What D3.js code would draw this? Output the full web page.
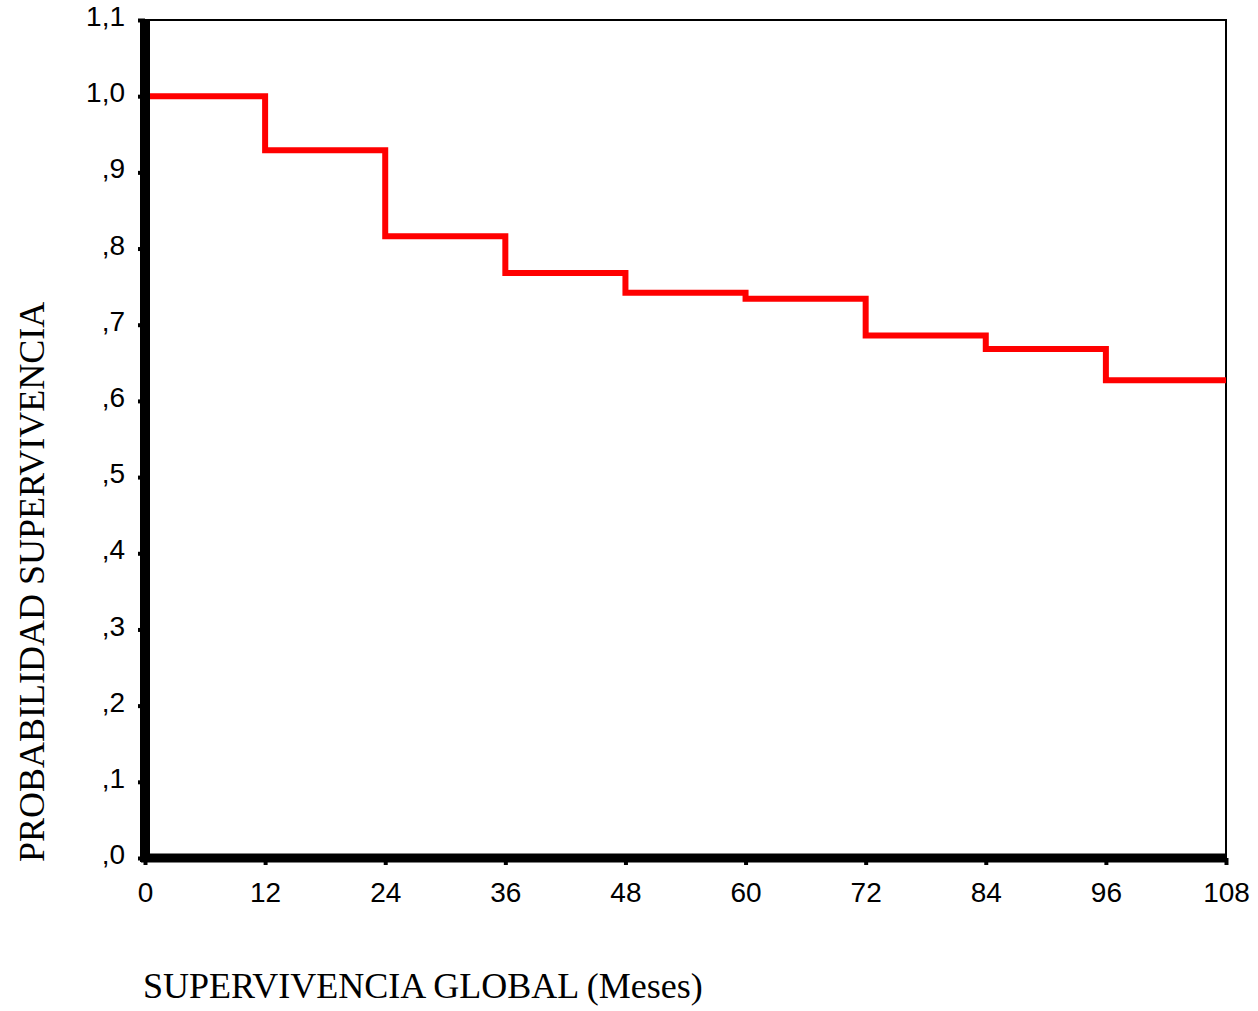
<!DOCTYPE html>
<html lang="es">
<head>
  <meta charset="UTF-8">
  <title>Supervivencia global</title>
  <script src="https://d3js.org/d3.v7.min.js"></script>
  <style>
    body { margin: 0; background: #fff; }
    .tick text { font-family: "Liberation Sans", Arial, sans-serif; font-size: 28px; fill: #000; }
    .title { font-family: "Liberation Serif", "Times New Roman", serif; font-size: 36px; fill: #000; }
  </style>
</head>
<body>
  <div id="chart"></div>
  <script>
    // Kaplan-Meier steps: time (months) and survival after each step
    const stepTimes = [0, 12, 24, 36, 48, 60, 72, 84, 96, 108];
    const survival  = [1.0, 0.929, 0.816, 0.768, 0.742, 0.734, 0.686, 0.668, 0.627, 0.627];
    const xTicks = [0, 12, 24, 36, 48, 60, 72, 84, 96, 108];
    const yTicks = [0, 0.1, 0.2, 0.3, 0.4, 0.5, 0.6, 0.7, 0.8, 0.9, 1.0, 1.1];

    const width = 1258, height = 1011;
    const margin = { left: 145, right: 32, top: 20, bottom: 153 };

    const svg = d3.select("#chart").append("svg")
      .attr("width", width).attr("height", height);

    const x = d3.scaleLinear().domain([0, 108]).range([margin.left, width - margin.right]);
    const y = d3.scaleLinear().domain([0, 1.1]).range([height - margin.bottom, margin.top]);

    const fmtY = v => {
      const s = d3.format(".1f")(v).replace(".", ",");
      return s.startsWith("0") ? s.slice(1) : s;
    };

    // frame (thin top & right)
    svg.append("rect")
      .attr("x", x(0)).attr("y", y(1.1))
      .attr("width", x(108) - x(0)).attr("height", y(0) - y(1.1))
      .attr("fill", "none").attr("stroke", "#000").attr("stroke-width", 2);

    // survival curve
    const line = d3.line().curve(d3.curveStepAfter)
      .x((d, i) => x(stepTimes[i])).y(d => y(d));
    svg.append("path")
      .datum(survival)
      .attr("d", line)
      .attr("fill", "none")
      .attr("stroke", "#ff0000")
      .attr("stroke-width", 6);

    // axes
    const yAxis = svg.append("g")
      .attr("transform", `translate(${x(0)},0)`)
      .call(d3.axisLeft(y).tickValues(yTicks).tickFormat(fmtY).tickSize(7).tickPadding(13));
    const xAxis = svg.append("g")
      .attr("transform", `translate(0,${y(0)})`)
      .call(d3.axisBottom(x).tickValues(xTicks).tickSize(7).tickPadding(13));

    [yAxis, xAxis].forEach(g => {
      g.select(".domain").remove();
      g.selectAll(".tick line").attr("stroke", "#000").attr("stroke-width", 4);
    });
    yAxis.selectAll(".tick text").attr("dy", "0.2em");
    xAxis.selectAll(".tick text").attr("dy", "0.85em");

    // thick left and bottom axis lines
    svg.append("line")
      .attr("x1", x(0)).attr("x2", x(0))
      .attr("y1", y(1.1)).attr("y2", y(0) + 4)
      .attr("stroke", "#000").attr("stroke-width", 10);
    svg.append("line")
      .attr("x1", x(0) - 4).attr("x2", x(108))
      .attr("y1", y(0)).attr("y2", y(0))
      .attr("stroke", "#000").attr("stroke-width", 9);

    // titles
    svg.append("text").attr("class", "title")
      .attr("x", 143).attr("y", 998)
      .text("SUPERVIVENCIA GLOBAL (Meses)");
    svg.append("text").attr("class", "title")
      .attr("transform", "translate(44,862) rotate(-90)")
      .text("PROBABILIDAD SUPERVIVENCIA");
  </script>
</body>
</html>
